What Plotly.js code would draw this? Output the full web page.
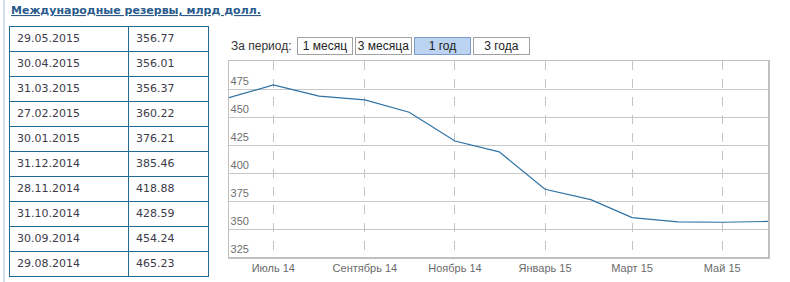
<!DOCTYPE html>
<html>
<head>
<meta charset="utf-8">
<script src="https://cdn.plot.ly/plotly-3.0.1.min.js"></script>
<style>
html,body{margin:0;padding:0;background:#fff;}
#chart{width:790px;height:282px;}
</style>
</head>
<body>
<div id="chart"></div>
<script>
// ---- data ----
var tableDates = ['29.05.2015','30.04.2015','31.03.2015','27.02.2015','30.01.2015','31.12.2014','28.11.2014','31.10.2014','30.09.2014','29.08.2014'];
var tableValues = ['356.77','356.01','356.37','360.22','376.21','385.46','418.88','428.59','454.24','465.23'];

var chartDates = ['2014-06-01','2014-07-01','2014-08-01','2014-09-01','2014-10-01','2014-11-01','2014-12-01','2015-01-01','2015-02-01','2015-03-01','2015-04-01','2015-05-01','2015-06-01'];
var chartValues = [467.2, 478.6, 468.7, 465.23, 454.24, 428.59, 418.88, 385.46, 376.21, 360.22, 356.37, 356.01, 356.77];

var xTickVals = ['2014-07-01','2014-09-01','2014-11-01','2015-01-01','2015-03-01','2015-05-01'];
var xTickText = ['Июль 14','Сентябрь 14','Ноябрь 14','Январь 15','Март 15','Май 15'];
var yTickVals = [325, 350, 375, 400, 425, 450, 475];

var titleText = 'Международные резервы, млрд долл.';
var periodLabel = 'За период:';
var buttonLabels = ['1 месяц','3 месяца','1 год','3 года'];
var activeButton = 2;

// ---- layout helpers (pixel -> paper) ----
var W = 790, H = 282;
function px(x){ return x / W; }
function py(y){ return 1 - y / H; }

var buttonBoxes = [[297,353],[355,412],[414,471],[473,530]];
var btnTop = 37, btnBottom = 55;

var annotations = [
  {xref:'paper', yref:'paper', x:px(9), y:py(10), xanchor:'left', yanchor:'middle',
   text:'<b><span style="text-decoration:underline">' + titleText + '</span></b>', showarrow:false,
   font:{family:'DejaVu Sans', size:11, color:'#2a5b8c'}},
  {xref:'paper', yref:'paper', x:px(229), y:py(46), xanchor:'left', yanchor:'middle',
   text:periodLabel, showarrow:false,
   font:{family:'Liberation Sans, Arial', size:12, color:'#333'}}
];
buttonLabels.forEach(function(lbl, i){
  var b = buttonBoxes[i];
  var active = (i === activeButton);
  annotations.push({
    xref:'paper', yref:'paper', x:px((b[0]+b[1])/2), y:py((btnTop+btnBottom)/2),
    xanchor:'center', yanchor:'middle', showarrow:false, text:lbl,
    width:b[1]-b[0]-2, height:btnBottom-btnTop-2, borderpad:0, borderwidth:1,
    bordercolor: active ? '#7d9cc8' : '#a0a0a0',
    bgcolor: active ? '#bcd3f1' : '#ffffff',
    font:{family:'Liberation Sans, Arial', size:12, color:'#222'}
  });
});

var shapes = [
  {type:'line', xref:'paper', yref:'paper', x0:px(4), x1:px(4), y0:0, y1:1,
   line:{color:'#c3d2e8', width:1.5}}
];

var traces = [
  {
    type:'table',
    domain:{x:[px(9), px(208)], y:[py(278), py(26)]},
    columnwidth:[119, 80],
    header:{
      values:[[tableDates[0]],[tableValues[0]]],
      height:25, align:'left',
      line:{color:'#1f6a98', width:1},
      fill:{color:'#ffffff'},
      font:{family:'DejaVu Sans', size:11, color:'#3d3a4a'}
    },
    cells:{
      values:[tableDates.slice(1), tableValues.slice(1)],
      height:25, align:'left',
      line:{color:'#1f6a98', width:1},
      fill:{color:'#ffffff'},
      font:{family:'DejaVu Sans', size:11, color:'#3d3a4a'}
    }
  },
  {
    type:'scatter', mode:'lines', x:chartDates, y:chartValues,
    line:{color:'#2f72a3', width:1.2}, hoverinfo:'x+y', showlegend:false
  }
];

var layout = {
  width:W, height:H,
  margin:{l:0, r:0, t:0, b:0, pad:0},
  paper_bgcolor:'#ffffff', plot_bgcolor:'#ffffff',
  showlegend:false,
  xaxis:{
    domain:[px(229), px(768)],
    type:'date', range:['2014-06-01','2015-06-01'],
    tickvals:xTickVals, ticktext:xTickText,
    showgrid:true, gridcolor:'#c4c4c4', griddash:'dash', gridwidth:1,
    showline:true, linecolor:'#c0c0c0', linewidth:1.5, mirror:true,
    ticks:'', zeroline:false,
    tickfont:{family:'Liberation Sans, Arial', size:11, color:'#6a6a6a'}
  },
  yaxis:{
    domain:[py(257), py(61)],
    range:[325, 500],
    tickvals:yTickVals,
    showgrid:true, gridcolor:'#c8c8c8', gridwidth:1,
    showline:true, linecolor:'#c0c0c0', linewidth:1.5, mirror:true,
    ticks:'', zeroline:false,
    ticklabelposition:'inside top',
    tickfont:{family:'Liberation Sans, Arial', size:11, color:'#6f6f6f'}
  },
  annotations:annotations,
  shapes:shapes
};

Plotly.newPlot('chart', traces, layout, {displayModeBar:false, staticPlot:true});
</script>
</body>
</html>
